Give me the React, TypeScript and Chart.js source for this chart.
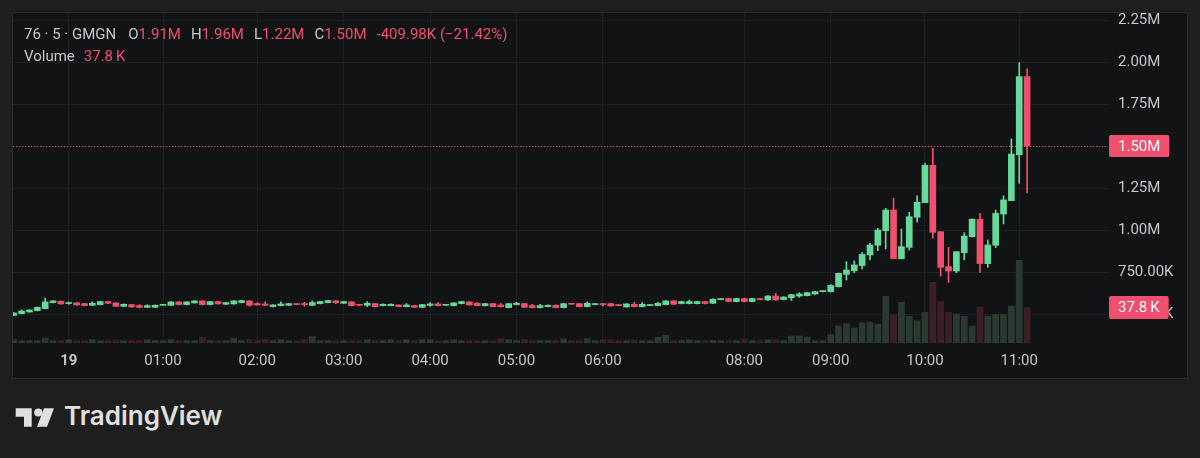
import React, { useEffect, useRef } from 'react';
import { Chart, registerables } from 'chart.js';

Chart.register(...registerables);

// OHLC in thousands (K), one 5-minute candle per entry
const opens = [
  492, 502, 512, 520, 532, 568, 576, 562, 566, 562,
  552, 556, 574, 566, 546, 556, 550, 540, 540, 552,
  552, 572, 556, 566, 578, 556, 574, 558, 560, 568,
  578, 562, 560, 544, 550, 552, 560, 560, 552, 562,
  568, 578, 564, 572, 556, 552, 562, 550, 550, 554,
  544, 550, 540, 552, 560, 552, 550, 562, 572, 564,
  550, 562, 554, 538, 556, 562, 550, 538, 544, 552,
  538, 562, 562, 544, 556, 562, 562, 556, 542, 558,
  544, 550, 550, 556, 578, 562, 562, 562, 574, 564,
  586, 592, 574, 592, 574, 592, 584, 607, 586, 597,
  607, 609, 619, 633, 633, 663, 736, 758, 788, 851,
  909, 996, 1119, 829, 897, 1076, 1163, 1385, 990, 782,
  756, 865, 960, 1064, 800, 909, 1095, 1175, 1448, 1913,
];
const closes = [
  506, 518, 524, 540, 572, 578, 560, 566, 554, 550,
  564, 574, 564, 546, 558, 542, 540, 550, 552, 556,
  572, 556, 572, 578, 556, 574, 560, 568, 578, 580,
  552, 554, 552, 554, 560, 562, 556, 556, 568, 574,
  580, 568, 574, 550, 552, 564, 544, 558, 558, 544,
  554, 540, 556, 560, 550, 556, 566, 574, 554, 550,
  562, 544, 544, 562, 564, 540, 538, 550, 552, 538,
  562, 558, 544, 564, 562, 556, 548, 550, 560, 544,
  558, 556, 564, 578, 558, 574, 574, 574, 562, 588,
  592, 574, 592, 574, 592, 586, 607, 584, 601, 615,
  619, 627, 633, 637, 670, 742, 762, 792, 855, 911,
  1000, 1119, 829, 901, 1079, 1165, 1385, 986, 778, 756,
  871, 964, 1064, 800, 911, 1099, 1179, 1452, 1913, 1500,
];
const highs = [
  508, 524, 526, 542, 595, 580, 578, 572, 568, 564,
  572, 576, 576, 568, 560, 558, 556, 556, 554, 557,
  574, 574, 574, 580, 580, 576, 576, 570, 580, 582,
  580, 568, 572, 556, 572, 564, 561, 570, 578, 576,
  582, 580, 576, 574, 557, 574, 564, 560, 560, 556,
  562, 552, 558, 568, 568, 557, 568, 576, 574, 570,
  564, 564, 564, 564, 570, 564, 558, 558, 554, 554,
  564, 563, 564, 572, 564, 564, 564, 558, 562, 570,
  568, 557, 570, 580, 580, 576, 582, 576, 576, 590,
  593, 594, 594, 594, 594, 593, 609, 623, 603, 617,
  627, 629, 635, 638, 675, 744, 812, 816, 867, 921,
  1010, 1129, 1189, 1006, 1105, 1203, 1397, 1486, 990, 897,
  871, 984, 1066, 1099, 941, 1119, 1203, 1542, 1996, 1960,
];
const lows = [
  490, 500, 510, 518, 530, 566, 558, 558, 552, 548,
  550, 554, 562, 544, 544, 540, 536, 538, 538, 551,
  550, 554, 554, 564, 554, 554, 558, 556, 558, 566,
  546, 552, 550, 542, 548, 550, 555, 546, 550, 560,
  566, 562, 562, 548, 551, 544, 542, 548, 548, 542,
  542, 538, 538, 546, 548, 551, 548, 560, 552, 548,
  546, 542, 542, 536, 554, 538, 536, 536, 542, 536,
  536, 557, 542, 542, 554, 546, 546, 548, 540, 542,
  542, 549, 548, 554, 556, 560, 560, 560, 560, 562,
  585, 572, 572, 572, 572, 585, 580, 582, 584, 580,
  599, 607, 617, 632, 631, 660, 702, 746, 768, 822,
  877, 887, 829, 829, 881, 1046, 1163, 951, 726, 687,
  746, 822, 958, 746, 778, 895, 1036, 1175, 1278, 1220,
];
// volume in K
const volumes = [
  3.5, 2.5, 2.5, 2.5, 5.3, 2.5, 2.5, 3.5, 2.5, 2.5,
  3.5, 2.5, 2.5, 3.5, 2.5, 2.5, 2.5, 3.5, 2.5, 2.5,
  3.5, 2.5, 2.5, 2.5, 6.1, 2.5, 2.5, 2.5, 5.3, 2.5,
  3.5, 2.5, 3.5, 2.5, 3.5, 2.5, 2.5, 3.5, 7.2, 2.5,
  2.5, 2.5, 2.5, 2.5, 2.5, 3.5, 2.5, 2.5, 3.5, 2.5,
  3.5, 2.5, 3.5, 3.5, 2.5, 2.5, 3.5, 2.5, 2.5, 2.5,
  2.5, 2.5, 4.6, 3.5, 2.5, 3.5, 2.5, 2.5, 2.5, 2.5,
  4.6, 2.5, 2.5, 4.6, 2.5, 3.5, 3.5, 2.5, 2.5, 3.2,
  2.5, 2.5, 6.1, 8.2, 2.5, 2.5, 3.5, 2.5, 2.5, 2.5,
  2.5, 2.5, 2.5, 4.3, 2.5, 2.5, 3.5, 3.5, 2.5, 7.5,
  7.5, 6.4, 2.5, 2.5, 9.0, 18.2, 20.7, 16, 21.8, 22.4,
  20, 49.9, 30.2, 43.5, 28.5, 23.5, 32.8, 64.8, 44.1, 32.8,
  31, 28.5, 18.2, 38.4, 28.8, 30.2, 30.2, 39.5, 88.3, 37.8,
];

const xTickIndex = [7, 19, 31, 42, 53, 64, 75, 93, 104, 116, 128];
const xTickLabels = ['19', '01:00', '02:00', '03:00', '04:00', '05:00', '06:00', '08:00', '09:00', '10:00', '11:00'];
const yTickValues = [500, 750, 1000, 1250, 1500, 1750, 2000, 2250];

const lastPrice = 1500;
const lastVolume = 37.8;

const UP = '#66d89a';
const DOWN = '#f0506e';
const VOL_UP = '#2b3a30';
const VOL_DOWN = '#3e1f28';
const GRID = '#1e1f22';
const TEXT = '#c4c6cc';
const FONT = 'Roboto, "Noto Sans", sans-serif';

function fmtPrice(v: number): string {
  return v >= 1000 ? (v / 1000).toFixed(2) + 'M' : v.toFixed(2) + 'K';
}

export default function App() {
  const ref = useRef<HTMLCanvasElement>(null);

  useEffect(() => {
    const idx = opens.map((_, i) => i);
    const up = idx.map((i) => closes[i] >= opens[i]);

    const markers = {
      id: 'markers',
      beforeDatasetsDraw(chart: any) {
        const { ctx, chartArea, scales } = chart;
        const py = Math.round(scales.y.getPixelForValue(lastPrice)) + 0.5;
        ctx.save();
        ctx.strokeStyle = DOWN;
        ctx.lineWidth = 1;
        ctx.setLineDash([1, 2]);
        ctx.beginPath();
        ctx.moveTo(chartArea.left, py);
        ctx.lineTo(chartArea.right, py);
        ctx.stroke();
        ctx.restore();
      },
      afterDraw(chart: any) {
        const { ctx, chartArea, scales } = chart;
        const tag = (text: string, py: number, h: number) => {
          ctx.save();
          ctx.font = `15px ${FONT}`;
          const w = ctx.measureText(text).width + 18;
          const x = chartArea.right + 1;
          const y = Math.round(py - h / 2);
          ctx.fillStyle = DOWN;
          ctx.beginPath();
          if (ctx.roundRect) ctx.roundRect(x, y, w, h, 2);
          else ctx.rect(x, y, w, h);
          ctx.fill();
          ctx.fillStyle = '#ffffff';
          ctx.textBaseline = 'middle';
          ctx.textAlign = 'left';
          ctx.fillText(text, x + 9, y + h / 2 + 1);
          ctx.restore();
        };
        tag(fmtPrice(lastPrice), scales.y.getPixelForValue(lastPrice), 22);
        tag(lastVolume.toFixed(1) + '\u2009K', scales.yVol.getPixelForValue(lastVolume), 23);
      },
    };

    const chart = new Chart(ref.current as HTMLCanvasElement, {
      type: 'bar',
      data: {
        datasets: [
          {
            label: 'Body',
            data: idx.map((i) => ({ x: i, y: [opens[i], closes[i]] })) as any,
            backgroundColor: idx.map((i) => (up[i] ? UP : DOWN)),
            barThickness: 6,
            maxBarThickness: 6,
            minBarLength: 1,
            yAxisID: 'y',
            order: 0,
          },
          {
            label: 'Wick',
            data: idx.map((i) => ({ x: i, y: [lows[i], highs[i]] })) as any,
            backgroundColor: idx.map((i) => (up[i] ? UP : DOWN)),
            barThickness: 1,
            maxBarThickness: 1,
            yAxisID: 'y',
            order: 1,
          },
          {
            label: 'Volume',
            data: idx.map((i) => ({ x: i, y: volumes[i] })) as any,
            backgroundColor: idx.map((i) => (up[i] ? VOL_UP : VOL_DOWN)),
            barThickness: 6,
            maxBarThickness: 6,
            yAxisID: 'yVol',
            order: 2,
          },
        ],
      },
      options: {
        responsive: false,
        animation: false,
        devicePixelRatio: 1,
        events: [],
        layout: { padding: 0 },
        datasets: { bar: { grouped: false } } as any,
        plugins: { legend: { display: false }, tooltip: { enabled: false } },
        scales: {
          x: {
            type: 'linear',
            position: 'bottom',
            offset: false,
            min: -0.1,
            max: 139.3,
            afterBuildTicks: (s: any) => {
              s.ticks = xTickIndex.map((v) => ({ value: v }));
            },
            afterFit: (s: any) => {
              s.height = 35;
              s.paddingLeft = 0;
              s.paddingRight = 0;
            },
            ticks: {
              autoSkip: false,
              maxRotation: 0,
              padding: 9,
              color: TEXT,
              font: (ctx: any) => ({
                family: FONT,
                size: 15,
                weight: ctx.tick && ctx.tick.value === xTickIndex[0] ? 'bold' : 'normal',
              }),
              callback: (v: any) => {
                const k = xTickIndex.indexOf(Number(v));
                return k >= 0 ? xTickLabels[k] : '';
              },
            },
            grid: { color: GRID, drawTicks: false, offset: false },
            border: { display: false },
          },
          y: {
            type: 'linear',
            position: 'right',
            min: 327.4,
            max: 2291.7,
            afterBuildTicks: (s: any) => {
              s.ticks = yTickValues.map((v) => ({ value: v }));
            },
            afterFit: (s: any) => {
              s.width = 79;
              s.paddingTop = 0;
              s.paddingBottom = 0;
            },
            ticks: {
              padding: 10,
              color: TEXT,
              font: { family: FONT, size: 15 },
              callback: (v: any) => fmtPrice(Number(v)),
            },
            grid: { color: GRID, drawTicks: false },
            border: { display: false },
          },
          yVol: {
            type: 'linear',
            display: false,
            min: 0,
            max: 352.4,
          },
        },
      } as any,
      plugins: [markers],
    });
    return () => chart.destroy();
  }, []);

  const gray = { color: TEXT };
  const red = { color: DOWN };

  return (
    <div
      style={{
        position: 'fixed',
        left: 0,
        top: 0,
        width: 1200,
        height: 458,
        background: '#1e1e1e',
        overflow: 'hidden',
        fontFamily: FONT,
      }}
    >
      <div
        style={{
          position: 'absolute',
          left: 12,
          top: 12,
          width: 1174,
          height: 365,
          background: '#121315',
          border: '1px solid #2a2b2e',
        }}
      >
        <canvas ref={ref} width={1174} height={365} style={{ display: 'block' }} />
        <div
          style={{
            position: 'absolute',
            left: 11,
            top: 12,
            fontSize: 15,
            lineHeight: '18px',
            whiteSpace: 'pre',
          }}
        >
          <span style={gray}>76 · 5 · GMGN</span>
          <span style={{ ...gray, marginLeft: 12 }}>O</span>
          <span style={red}>1.91M</span>
          <span style={{ ...gray, marginLeft: 10 }}>H</span>
          <span style={red}>1.96M</span>
          <span style={{ ...gray, marginLeft: 10 }}>L</span>
          <span style={red}>1.22M</span>
          <span style={{ ...gray, marginLeft: 10 }}>C</span>
          <span style={red}>1.50M</span>
          <span style={{ ...red, marginLeft: 10 }}>-409.98K (−21.42%)</span>
        </div>
        <div
          style={{
            position: 'absolute',
            left: 11,
            top: 34,
            fontSize: 15,
            lineHeight: '18px',
            whiteSpace: 'pre',
          }}
        >
          <span style={gray}>Volume</span>
          <span style={{ ...red, marginLeft: 9 }}>37.8{'\u2009'}K</span>
        </div>
      </div>
      <svg
        style={{ position: 'absolute', left: 0, top: 400 }}
        width={60}
        height={34}
        viewBox="0 400 60 34"
      >
        <path d="M15.7 408.3 H31.7 V426.7 H24 V416.7 H15.7 Z" fill="#e0e0e0" />
        <circle cx={38.3} cy={412.5} r={4.1} fill="#e0e0e0" />
        <path d="M44 408.3 H54 L47 426.7 H37 Z" fill="#e0e0e0" />
      </svg>
      <div
        style={{
          position: 'absolute',
          left: 64,
          top: 400,
          fontFamily: 'Inter, Roboto, sans-serif',
          fontWeight: 600,
          fontSize: 26,
          lineHeight: '32px',
          color: '#e0e0e0',
          whiteSpace: 'pre',
        }}
      >
        TradingView
      </div>
    </div>
  );
}
